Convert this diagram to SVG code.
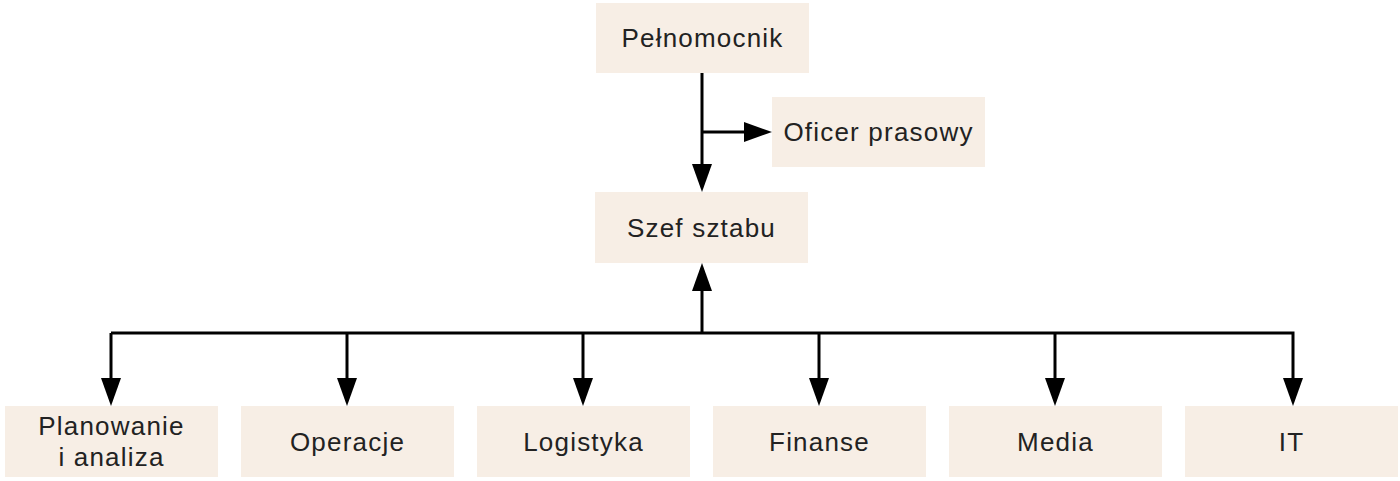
<svg xmlns="http://www.w3.org/2000/svg" width="1400" height="481" viewBox="0 0 1400 481">
<defs>
<marker id="ah" markerWidth="28" markerHeight="20" refX="18" refY="10" orient="auto" markerUnits="userSpaceOnUse">
<path d="M0,0 L28,10 L0,20 Z" fill="#000"/>
</marker>
<style>
.box{fill:#F7EEE5;}
.t{font-family:"Liberation Sans",Arial,Helvetica,sans-serif;font-size:26px;letter-spacing:1.2px;fill:#222;text-anchor:middle;}
.c{fill:none;stroke:#000;stroke-width:3;}
</style>
</defs>
<rect width="1400" height="481" fill="#fff"/>
<g id="connectors">
<path class="c" d="M702,73 V182" marker-end="url(#ah)"/>
<path class="c" d="M702,132 H762" marker-end="url(#ah)"/>
<path class="c" d="M702,333 V273" marker-end="url(#ah)"/>
<path class="c" d="M111,333 H1293 V396" marker-end="url(#ah)"/>
<path class="c" d="M111,333 V396" marker-end="url(#ah)"/>
<path class="c" d="M347,333 V396" marker-end="url(#ah)"/>
<path class="c" d="M583,333 V396" marker-end="url(#ah)"/>
<path class="c" d="M819,333 V396" marker-end="url(#ah)"/>
<path class="c" d="M1055,333 V396" marker-end="url(#ah)"/>
</g>
<g id="pelnomocnik"><rect class="box" x="596" y="3" width="213" height="70"/><text class="t" x="702.5" y="47">Pełnomocnik</text></g>
<g id="oficer"><rect class="box" x="772" y="97" width="213" height="70"/><text class="t" x="878.5" y="141">Oficer prasowy</text></g>
<g id="szef"><rect class="box" x="595" y="192" width="213" height="71"/><text class="t" x="701.5" y="237">Szef sztabu</text></g>
<g id="planowanie"><rect class="box" x="5" y="406" width="213" height="71"/><text class="t" x="111.5" y="435">Planowanie</text><text class="t" x="111.5" y="466">i analiza</text></g>
<g id="operacje"><rect class="box" x="241" y="406" width="213" height="71"/><text class="t" x="347.5" y="451">Operacje</text></g>
<g id="logistyka"><rect class="box" x="477" y="406" width="213" height="71"/><text class="t" x="583.5" y="451">Logistyka</text></g>
<g id="finanse"><rect class="box" x="713" y="406" width="213" height="71"/><text class="t" x="819.5" y="451">Finanse</text></g>
<g id="media"><rect class="box" x="949" y="406" width="213" height="71"/><text class="t" x="1055.5" y="451">Media</text></g>
<g id="it"><rect class="box" x="1185" y="406" width="213" height="71"/><text class="t" x="1291.5" y="451">IT</text></g>
</svg>
